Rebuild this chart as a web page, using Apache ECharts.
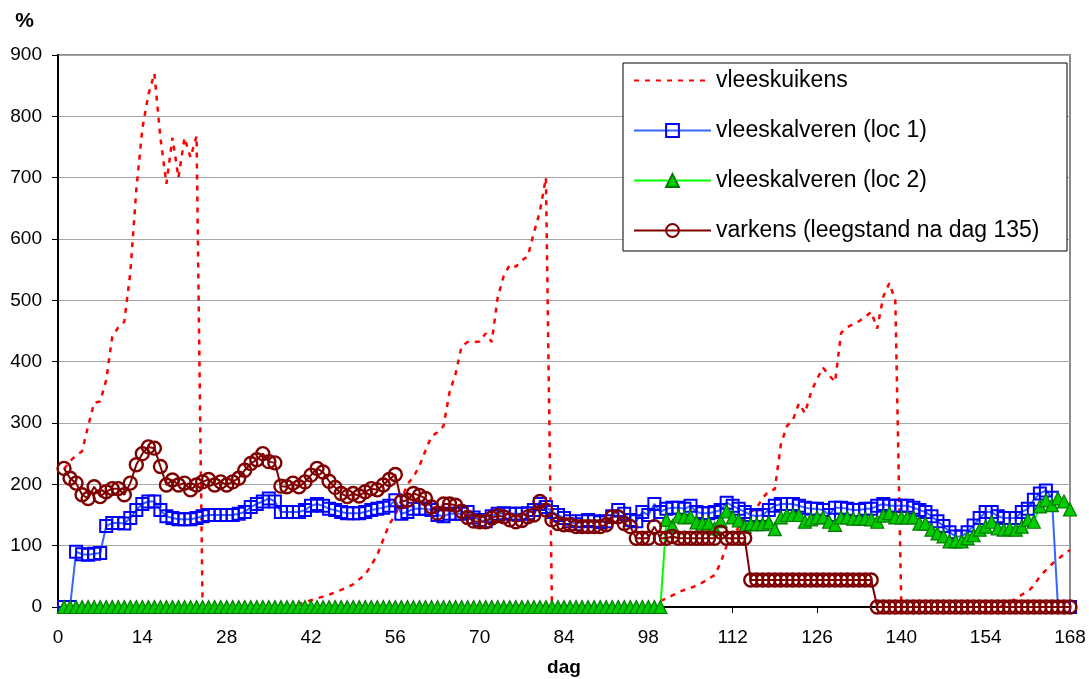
<!DOCTYPE html>
<html>
<head>
<meta charset="utf-8">
<title>vleeskuikens / vleeskalveren / varkens</title>
<script src="https://cdn.jsdelivr.net/npm/echarts@6/dist/echarts.min.js"></script>
<style>
  html, body { margin: 0; padding: 0; background: #fff; }
  #chart { width: 1089px; height: 679px; }
</style>
</head>
<body>
<div id="chart"></div>
<script>
// dag 1 t/m 168, één waarde per dag (%)
const firstDay = 1
const lastDay = 168
const xTicks = [0, 14, 28, 42, 56, 70, 84, 98, 112, 126, 140, 154, 168]
const yTicks = [0, 100, 200, 300, 400, 500, 600, 700, 800, 900]

const seriesNames = [
  'vleeskuikens',
  'vleeskalveren (loc 1)',
  'vleeskalveren (loc 2)',
  'varkens (leegstand na dag 135)'
]

const vleeskuikens = [
  225, 238, 247, 254, 295, 333, 335, 370, 440, 456,
  465, 545, 680, 780, 835, 870, 765, 690, 765, 700,
  765, 733, 768, 0, 0, 0, 0, 0, 0, 0,
  0, 0, 0, 0, 0, 0, 0, 0, 2, 5,
  8, 11, 14, 17, 20, 24, 28, 32, 37, 45,
  53, 68, 85, 110, 135, 150, 175, 200, 212, 230,
  255, 278, 285, 295, 350, 380, 425, 432, 432, 433,
  446, 432, 505, 540, 558, 555, 565, 572, 610, 645,
  700, 0, 0, 0, 0, 0, 0, 0, 0, 0,
  0, 0, 0, 0, 0, 0, 0, 0, 3, 10,
  14, 19, 24, 28, 31, 35, 40, 46, 52, 72,
  100, 115, 130, 145, 155, 162, 178, 189, 192, 265,
  295, 305, 332, 316, 350, 372, 390, 378, 367, 447,
  456, 461, 466, 473, 481, 454, 506, 528, 500, 0,
  0, 0, 0, 0, 0, 0, 0, 0, 0, 0,
  0, 0, 0, 0, 0, 0, 3, 8, 14, 20,
  25, 35, 50, 60, 70, 78, 86, 93
]

const kalverenLoc1 = [
  0, 0, 90, 86, 85, 87, 88, 132, 137, 137,
  136, 145, 158, 168, 172, 172, 158, 148, 145, 143,
  143, 143, 145, 148, 150, 150, 150, 150, 150, 152,
  155, 163, 168, 172, 177, 172, 155, 155, 155, 155,
  158, 165, 168, 165, 160, 158, 155, 153, 153, 153,
  155, 158, 160, 162, 165, 174, 152, 155, 160, 160,
  160, 158, 150, 148, 152, 152, 152, 155, 146, 142,
  140, 148, 152, 153, 152, 152, 152, 153, 158, 168,
  163, 155, 150, 145, 140, 135, 140, 142, 140, 138,
  140, 148, 158, 152, 142, 140, 155, 150, 168, 155,
  160, 162, 162, 160, 165, 155, 153, 153, 155, 158,
  170, 165, 160, 155, 150, 148, 150, 158, 165, 168,
  168, 168, 165, 162, 160, 160, 158, 150, 162, 162,
  160, 158, 158, 160, 160, 165, 168, 165, 165, 165,
  165, 162, 158, 155, 148, 140, 132, 122, 115, 115,
  122, 133, 145, 155, 155, 148, 145, 145, 145, 155,
  160, 175, 185, 190, 178, 0, 0, 0
]

const kalverenLoc2 = [
  0, 0, 0, 0, 0, 0, 0, 0, 0, 0,
  0, 0, 0, 0, 0, 0, 0, 0, 0, 0,
  0, 0, 0, 0, 0, 0, 0, 0, 0, 0,
  0, 0, 0, 0, 0, 0, 0, 0, 0, 0,
  0, 0, 0, 0, 0, 0, 0, 0, 0, 0,
  0, 0, 0, 0, 0, 0, 0, 0, 0, 0,
  0, 0, 0, 0, 0, 0, 0, 0, 0, 0,
  0, 0, 0, 0, 0, 0, 0, 0, 0, 0,
  0, 0, 0, 0, 0, 0, 0, 0, 0, 0,
  0, 0, 0, 0, 0, 0, 0, 0, 0, 0,
  142, 132, 148, 146, 147, 138, 136, 137, 128, 140,
  156, 146, 141, 131, 135, 135, 135, 138, 127, 146,
  150, 150, 150, 139, 143, 146, 146, 139, 134, 146,
  146, 144, 144, 144, 143, 139, 149, 153, 146, 146,
  146, 146, 136, 136, 126, 120, 115, 107, 107, 107,
  112, 117, 126, 131, 139, 128, 126, 128, 126, 131,
  142, 139, 164, 174, 166, 177, 172, 159
]

const varkens = [
  226, 210, 202, 183, 177, 196, 180, 188, 193, 193,
  183, 202, 232, 250, 261, 259, 229, 199, 207, 199,
  202, 191, 199, 204, 208, 199, 204, 199, 204, 210,
  223, 234, 240, 250, 237, 235, 197, 196, 202, 196,
  204, 215, 226, 220, 205, 195, 185, 180, 185, 181,
  188, 193, 191, 199, 208, 216, 172, 174, 185, 182,
  177, 163, 153, 168, 168, 166, 156, 146, 140, 139,
  139, 145, 149, 147, 142, 139, 141, 147, 150, 172,
  158, 142, 136, 134, 134, 131, 131, 131, 131, 131,
  134, 147, 147, 136, 131, 112, 112, 112, 131, 112,
  112, 115, 112, 112, 112, 112, 112, 112, 112, 122,
  112, 112, 112, 112, 44, 44, 44, 44, 44, 44,
  44, 44, 44, 44, 44, 44, 44, 44, 44, 44,
  44, 44, 44, 44, 44, 0, 0, 0, 0, 0,
  0, 0, 0, 0, 0, 0, 0, 0, 0, 0,
  0, 0, 0, 0, 0, 0, 0, 0, 0, 0,
  0, 0, 0, 0, 0, 0, 0, 0
]

const days = []
for (let d = firstDay; d <= lastDay; d++) days.push(d)

const toPairs = values => days.map((d, i) => [d, values[i]])

const font = "'Liberation Sans', Arial, sans-serif"
const hollow = 'rgba(255,255,255,0)'

const chart = echarts.init(document.getElementById('chart'), null, { renderer: 'canvas' })

chart.setOption({
  animation: false,
  backgroundColor: '#fff',
  textStyle: { fontFamily: font },
  grid: {
    left: 58,
    right: 19,
    top: 55,
    bottom: 72,
    outerBoundsMode: 'none',
    show: true,
    borderColor: '#8c8c8c',
    borderWidth: 2
  },
  legend: {
    orient: 'vertical',
    left: 628,
    top: 63,
    itemWidth: 77,
    itemHeight: 16,
    itemGap: 25,
    z: 20,
    data: seriesNames,
    textStyle: { fontSize: 23, color: '#000', fontFamily: font, lineHeight: 25 }
  },
  graphic: [{
    type: 'rect',
    z: 15,
    shape: { x: 623, y: 63, width: 444, height: 188 },
    style: { fill: '#fff', stroke: '#000', lineWidth: 1 }
  }],
  xAxis: {
    type: 'value',
    min: xTicks[0],
    max: xTicks[xTicks.length - 1],
    interval: xTicks[1] - xTicks[0],
    name: 'dag',
    nameLocation: 'middle',
    nameGap: 51,
    nameTextStyle: { fontSize: 19, fontWeight: 'bold', color: '#000', fontFamily: font },
    axisLine: { lineStyle: { color: '#000', width: 2 } },
    axisTick: { length: 6, lineStyle: { color: '#000' } },
    axisLabel: { fontSize: 19, color: '#000', margin: 21, fontFamily: font },
    splitLine: { show: false }
  },
  yAxis: {
    type: 'value',
    min: yTicks[0],
    max: yTicks[yTicks.length - 1],
    interval: yTicks[1] - yTicks[0],
    name: '%',
    nameLocation: 'end',
    nameGap: 23,
    nameTextStyle: { fontSize: 21, fontWeight: 'bold', color: '#000', align: 'right', padding: [0, 24, 0, 0], fontFamily: font },
    axisLine: { show: true, lineStyle: { color: '#000', width: 2 } },
    axisTick: { show: true, length: 6, lineStyle: { color: '#000' } },
    axisLabel: { fontSize: 19, color: '#000', margin: 16, fontFamily: font },
    splitLine: { lineStyle: { color: '#a6a6a6', width: 1 } }
  },
  series: [
    {
      name: seriesNames[0],
      type: 'line',
      data: toPairs(vleeskuikens),
      symbol: 'none',
      z: 1,
      lineStyle: { color: '#ff0000', width: 2.5, type: [5, 6] },
      // geen marker, ook niet in de legenda
      itemStyle: { color: hollow, borderWidth: 0 }
    },
    {
      name: seriesNames[1],
      type: 'line',
      data: toPairs(kalverenLoc1),
      symbol: 'rect',
      symbolSize: 12,
      lineStyle: { color: '#3366ff', width: 2 },
      itemStyle: { color: hollow, borderColor: '#0000ff', borderWidth: 2 }
    },
    {
      name: seriesNames[2],
      type: 'line',
      data: toPairs(kalverenLoc2),
      symbol: 'triangle',
      symbolSize: 13,
      lineStyle: { color: '#00ff00', width: 2 },
      itemStyle: { color: '#00cc00', borderColor: '#007a00', borderWidth: 1.2 }
    },
    {
      name: seriesNames[3],
      type: 'line',
      data: toPairs(varkens),
      symbol: 'circle',
      symbolSize: 13,
      lineStyle: { color: '#800000', width: 2 },
      itemStyle: { color: hollow, borderColor: '#800000', borderWidth: 2.4 }
    }
  ]
})
</script>
</body>
</html>
